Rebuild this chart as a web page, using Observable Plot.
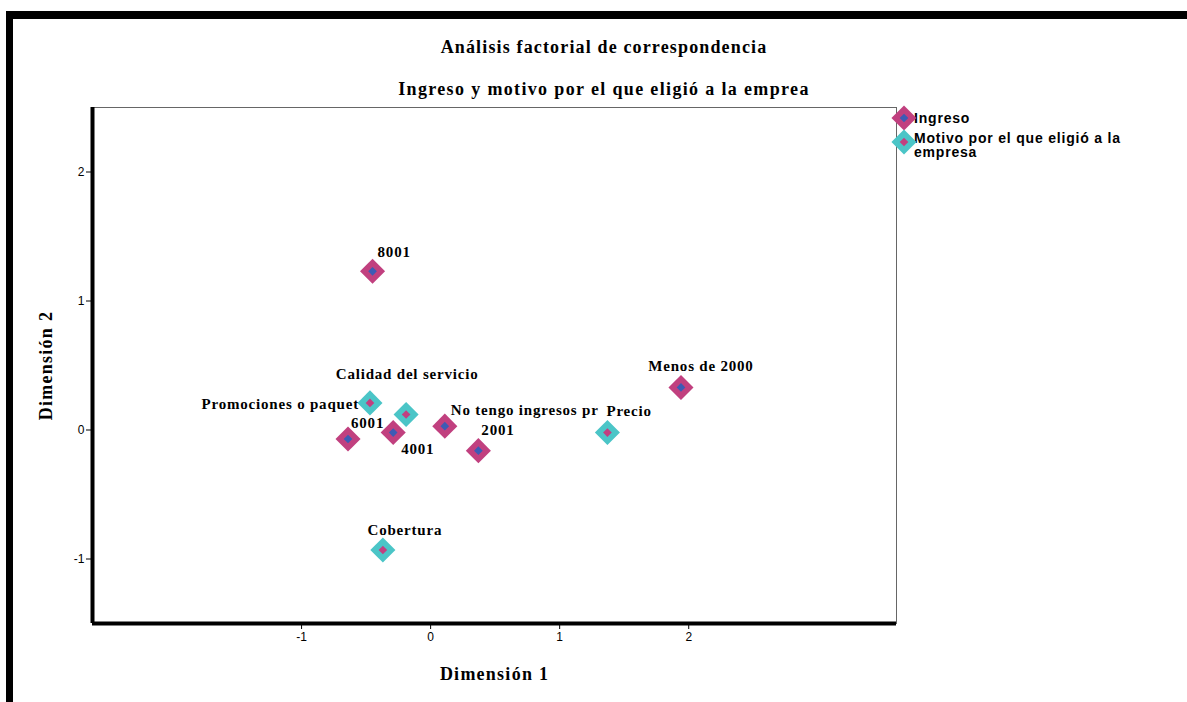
<!DOCTYPE html>
<html>
<head>
<meta charset="utf-8">
<script src="https://cdn.jsdelivr.net/npm/d3@7"></script>
<script src="https://cdn.jsdelivr.net/npm/@observablehq/plot@0.6"></script>
<style>
  body { margin: 0; background: #fff; }
  #wrap { position: relative; width: 1187px; height: 702px; overflow: hidden; background: #fff; }
  #bt { position: absolute; left: 6px; top: 11px; width: 1181px; height: 8px; background: #000; }
  #bl { position: absolute; left: 6px; top: 11px; width: 7px; height: 691px; background: #000; }
  .title { position: absolute; left: 0; width: 1208px; text-align: center; font: bold 18px "Liberation Serif", serif; color: #000; line-height: 20px; }
  #t1 { letter-spacing: 1.15px; }
  #t2 { letter-spacing: 1.35px; }
  #chart { position: absolute; left: 0; top: 95px; }
  #chart svg { font-family: "Liberation Sans", Arial, sans-serif; }
  #chart [aria-label="x-axis label"] text, #chart [aria-label="y-axis label"] text { font: bold 18px "Liberation Serif", serif; fill: #000; letter-spacing: 1.25px; }
  #chart g[aria-label="text"] text { letter-spacing: 0.8px; }
  #legend { position: absolute; left: 891px; top: 111px; font: bold 14px "Liberation Sans", Arial, sans-serif; color: #000; letter-spacing: 0.8px; }
  .li { position: relative; padding-left: 23px; line-height: 14px; }
  .li svg { position: absolute; left: 0; }
</style>
</head>
<body>
<div id="wrap">
  <div id="bt"></div>
  <div id="bl"></div>
  <div class="title" id="t1" style="top:37px"></div>
  <div class="title" id="t2" style="top:79px"></div>
  <div id="chart"></div>
  <div id="legend"></div>
</div>
<script>
// ---- data ----
const titleText = "Análisis factorial de correspondencia";
const subtitleText = "Ingreso y motivo por el que eligió a la emprea";
const xLabel = "Dimensión 1";
const yLabel = "Dimensión 2";
const groups = ["Ingreso", "Motivo por el que eligió a la empresa"];

const ingresoLabels = ["8001", "Menos de 2000", "6001", "4001", "No tengo ingresos pr", "2001"];
const ingresoDim1 = [-0.45, 1.94, -0.64, -0.29, 0.11, 0.37];
const ingresoDim2 = [1.23, 0.33, -0.07, -0.02, 0.03, -0.16];

const motivoLabels = ["Calidad del servicio", "Promociones o paquet", "Precio", "Cobertura"];
const motivoDim1 = [-0.19, -0.47, 1.37, -0.37];
const motivoDim2 = [0.12, 0.21, -0.02, -0.93];

const xTicks = [-1, 0, 1, 2];
const yTicks = [-1, 0, 1, 2];
const xDomain = [-2.62, 3.61];
const yDomain = [-1.5, 2.5];

// ---- styles / layout ----
const outerColor = { [groups[0]]: "#c1407f", [groups[1]]: "#4bc5c7" };
const innerColor = { [groups[0]]: "#3c5bb5", [groups[1]]: "#c23f80" };
const labelPlacement = {
  "8001": { anchor: "start", dx: 5, dy: -19 },
  "Menos de 2000": { anchor: "middle", dx: 20, dy: -21 },
  "6001": { anchor: "start", dx: 3, dy: -16 },
  "4001": { anchor: "start", dx: 8, dy: 17 },
  "No tengo ingresos pr": { anchor: "start", dx: 6, dy: -16 },
  "2001": { anchor: "start", dx: 3, dy: -20 },
  "Calidad del servicio": { anchor: "middle", dx: 1, dy: -40 },
  "Promociones o paquet": { anchor: "end", dx: -11, dy: 1 },
  "Precio": { anchor: "start", dx: -1, dy: -21 },
  "Cobertura": { anchor: "middle", dx: 22, dy: -20 }
};
const outerR = 11.3, innerR = 3.9;

const rows = [
  ...ingresoLabels.map((l, i) => ({ group: groups[0], label: l, d1: ingresoDim1[i], d2: ingresoDim2[i] })),
  ...motivoLabels.map((l, i) => ({ group: groups[1], label: l, d1: motivoDim1[i], d2: motivoDim2[i] }))
];
const drawOrder = [...rows.filter(r => r.group === groups[1]), ...rows.filter(r => r.group === groups[0])];

document.getElementById("t1").textContent = titleText;
document.getElementById("t2").textContent = subtitleText;

const labelMarks = rows.map(r => {
  const p = labelPlacement[r.label];
  return Plot.text([r], {
    x: "d1", y: "d2", text: "label",
    textAnchor: p.anchor, dx: p.dx, dy: p.dy,
    fontFamily: "Liberation Serif, serif", fontWeight: "bold", fontSize: 15, fill: "#000"
  });
});

const chart = Plot.plot({
  width: 1187,
  height: 607,
  marginTop: 12,
  marginBottom: 79,
  marginLeft: 92,
  marginRight: 291,
  x: { domain: xDomain },
  y: { domain: yDomain },
  color: { type: "identity" },
  style: { fontSize: "12px", color: "#000", background: "transparent" },
  marks: [
    Plot.frame({ stroke: "#666", strokeWidth: 1 }),
    Plot.ruleX([xDomain[0]], { stroke: "#000", strokeWidth: 4 }),
    Plot.ruleY([yDomain[0]], { stroke: "#000", strokeWidth: 4 }),
    Plot.axisX({ ticks: xTicks, tickFormat: d => String(d), tickSize: 6, tickPadding: 3, fontSize: 12,
      label: xLabel, labelAnchor: "center", labelArrow: "none", labelOffset: 56 }),
    Plot.axisY({ ticks: yTicks, tickFormat: d => String(d), tickSize: 6, tickPadding: 2, fontSize: 12,
      label: yLabel, labelAnchor: "center", labelArrow: "none", labelOffset: 53 }),
    Plot.dot(drawOrder, { x: "d1", y: "d2", symbol: "diamond2", r: outerR, fill: d => outerColor[d.group], stroke: "none" }),
    Plot.dot(drawOrder, { x: "d1", y: "d2", symbol: "diamond2", r: innerR, fill: d => innerColor[d.group], stroke: "none" }),
    ...labelMarks
  ]
});
document.getElementById("chart").appendChild(chart);

// legend
const legend = document.getElementById("legend");
const legendText = ["Ingreso", "Motivo por el que eligió a la<br>empresa"];
const markerTop = [-6, -2];
groups.forEach((g, i) => {
  const div = document.createElement("div");
  div.className = "li";
  div.style.marginBottom = i === 0 ? "6px" : "0";
  const sz = 26;
  const sym = (r) => d3.symbol(d3.symbolDiamond2, r * r * Math.PI)();
  div.innerHTML = `<svg width="${sz}" height="${sz}" viewBox="${-sz/2} ${-sz/2} ${sz} ${sz}" style="top:${markerTop[i]}px">
    <path d="${sym(outerR)}" fill="${outerColor[g]}"/><path d="${sym(innerR)}" fill="${innerColor[g]}"/></svg><span>${legendText[i]}</span>`;
  legend.appendChild(div);
});
</script>
</body>
</html>
